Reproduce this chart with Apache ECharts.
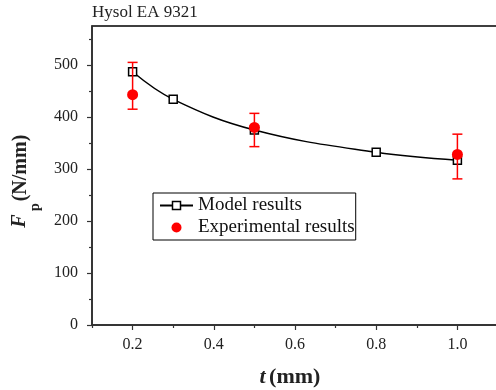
<!DOCTYPE html>
<html><head><meta charset="utf-8">
<script src="https://cdn.jsdelivr.net/npm/echarts@6/dist/echarts.min.js"></script>
<style>html,body{margin:0;padding:0;background:#fff}#c{width:496px;height:390px}</style>
</head><body><div id="c"></div>
<script>
const chartTitle = 'Hysol EA 9321';
const modelT = [0.2, 0.3, 0.5, 0.8, 1.0];
const modelF = [487, 434, 375, 332, 317];
const expT = [0.2, 0.5, 1.0];
const expF = [443, 380, 328];
const expLow = [415, 343, 281];
const expHigh = [505, 407, 367];
const xMajorTicks = [0.2, 0.4, 0.6, 0.8, 1.0];
const xMinorTicks = [0.1, 0.3, 0.5, 0.7, 0.9];
const yMajorTicks = [0, 100, 200, 300, 400, 500];
const yMinorTicks = [50, 150, 250, 350, 450, 550];
const xRange = [0.1, 1.1];
const yRange = [0, 575];

const FONT = "Liberation Serif";
const chart = echarts.init(document.getElementById('c'), null, {renderer: 'canvas'});
const modelData = modelT.map((t, i) => [t, modelF[i]]);
const expData = expT.map((t, i) => [t, expF[i]]);
const errData = expT.map((t, i) => [t, expLow[i], expHigh[i]]);
const axisColor = '#333';

chart.setOption({
  animation: false,
  textStyle: {fontFamily: FONT},
  grid: {left: 92, top: 26, width: 406, height: 299, show: true, borderColor: '#000', borderWidth: 1.5, backgroundColor: 'transparent', outerBoundsMode: 'none', containLabel: false},
  xAxis: [{
    type: 'value', min: xRange[0], max: xRange[1], position: 'bottom',
    axisLine: {show: true, lineStyle: {color: axisColor, width: 1.5}},
    axisTick: {show: true, customValues: xMajorTicks, length: 5, lineStyle: {color: axisColor, width: 1.2}},
    axisLabel: {customValues: xMajorTicks, formatter: v => v.toFixed(1), margin: 12, fontFamily: FONT, fontSize: 16, color: '#222'},
    splitLine: {show: false}
  }, {
    type: 'value', min: xRange[0], max: xRange[1], position: 'bottom',
    axisLine: {show: false},
    axisTick: {show: true, customValues: xMinorTicks, length: 3, lineStyle: {color: axisColor, width: 1.2}},
    axisLabel: {show: false}, splitLine: {show: false}
  }],
  yAxis: [{
    type: 'value', min: yRange[0], max: yRange[1], position: 'left',
    axisLine: {show: true, lineStyle: {color: axisColor, width: 1.5}},
    axisTick: {show: true, customValues: yMajorTicks, length: 5, lineStyle: {color: axisColor, width: 1.2}},
    axisLabel: {customValues: yMajorTicks, margin: 14, fontFamily: FONT, fontSize: 16, color: '#222'},
    splitLine: {show: false}
  }, {
    type: 'value', min: yRange[0], max: yRange[1], position: 'left',
    axisLine: {show: false},
    axisTick: {show: true, customValues: yMinorTicks, length: 3, lineStyle: {color: axisColor, width: 1.2}},
    axisLabel: {show: false}, splitLine: {show: false}
  }],
  legend: {
    left: 153, top: 193, orient: 'vertical',
    borderColor: '#000', borderWidth: 1, borderRadius: 0,
    padding: [3, 1, 3, 6], itemGap: 3, itemWidth: 33, itemHeight: 10,
    textStyle: {fontFamily: FONT, fontSize: 19, color: '#111'},
    data: [{name: 'Model results', itemStyle: {borderWidth: 1.5}}, {name: 'Experimental results', icon: 'circle'}]
  },
  graphic: [
    {type: 'text', x: 92, y: 13, style: {text: chartTitle, font: '17px ' + FONT, fill: '#222', textAlign: 'left', textVerticalAlign: 'middle'}},
    {type: 'text', x: 20, y: 221, rotation: Math.PI / 2, style: {text: 'F', font: 'italic bold 20px ' + FONT, fill: '#222', textAlign: 'center', textVerticalAlign: 'middle'}},
    {type: 'text', x: 35, y: 207, rotation: Math.PI / 2, style: {text: 'p', font: 'bold 14px ' + FONT, fill: '#222', textAlign: 'center', textVerticalAlign: 'middle'}},
    {type: 'text', x: 21, y: 168, rotation: Math.PI / 2, style: {text: '(N/mm)', font: 'bold 20px ' + FONT, fill: '#222', textAlign: 'center', textVerticalAlign: 'middle'}},
    {type: 'text', x: 290, y: 377, style: {text: '{a|t} {b|(mm)}', rich: {a: {font: 'italic bold 22px ' + FONT, fill: '#222'}, b: {font: 'bold 22px ' + FONT, fill: '#222'}}, textAlign: 'center', textVerticalAlign: 'middle'}}
  ],
  series: [{
    name: 'Model results', type: 'line', xAxisIndex: 0, yAxisIndex: 0,
    data: modelData, smooth: 0.4,
    symbol: 'rect', symbolSize: 8,
    lineStyle: {color: '#000', width: 1.5},
    itemStyle: {color: '#fff', borderColor: '#000', borderWidth: 1.5},
    z: 2
  }, {
    name: 'errbars', type: 'custom', xAxisIndex: 0, yAxisIndex: 0,
    data: errData, encode: {x: 0, y: [1, 2]}, z: 3,
    renderItem: (params, api) => {
      const x = api.value(0), lo = api.value(1), hi = api.value(2);
      const a = api.coord([x, lo]), b = api.coord([x, hi]);
      const hw = 5;
      const st = {stroke: '#ff0000', lineWidth: 1.5};
      return {type: 'group', children: [
        {type: 'line', shape: {x1: a[0], y1: a[1], x2: b[0], y2: b[1]}, style: st},
        {type: 'line', shape: {x1: a[0] - hw, y1: a[1], x2: a[0] + hw, y2: a[1]}, style: st},
        {type: 'line', shape: {x1: b[0] - hw, y1: b[1], x2: b[0] + hw, y2: b[1]}, style: st}
      ]};
    }
  }, {
    name: 'Experimental results', type: 'scatter', xAxisIndex: 0, yAxisIndex: 0,
    data: expData, symbol: 'circle', symbolSize: 11,
    itemStyle: {color: '#ff0000', opacity: 1}, z: 4
  }]
});
</script></body></html>
